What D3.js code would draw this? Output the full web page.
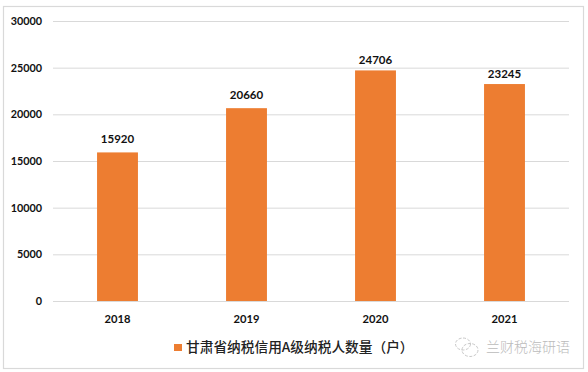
<!DOCTYPE html>
<html><head><meta charset="utf-8">
<script src="https://cdnjs.cloudflare.com/ajax/libs/d3/7.8.5/d3.min.js"></script>
<style>html,body{margin:0;padding:0;background:#fff}svg{display:block}</style></head>
<body><div id="chart"></div>
<script>
const years = ["2018","2019","2020","2021"];
const counts = [15920,20660,24706,23245];
const yTicks = [0,5000,10000,15000,20000,25000,30000];
const legendLabel = "甘肃省纳税信用A级纳税人数量（户）";
const watermark = "兰财税海研语";

const W=588,H=372,font='Lato,"Noto Sans CJK SC",sans-serif';
const labelGap=[9,9,6,6];
const svg=d3.select("#chart").append("svg").attr("width",W).attr("height",H).style("font-family",font);
svg.append("rect").attr("x",3.5).attr("y",6.5).attr("width",580).attr("height",362).attr("fill","#fff").attr("stroke","#d9d9d9").attr("stroke-width",1.2);
const x=d3.scaleBand().domain(years).range([53,569]).paddingInner(0.683).paddingOuter(0.3415);
const y=d3.scaleLinear().domain([0,30000]).range([301,21]);

const yAxis=svg.append("g").attr("transform","translate(53,0)").call(d3.axisLeft(y).tickValues(yTicks).tickSize(-516).tickPadding(11).tickFormat(d3.format("d")));
yAxis.select(".domain").remove();
yAxis.selectAll(".tick line").attr("stroke","#d9d9d9").attr("stroke-width",1);
yAxis.selectAll(".tick text").attr("font-size",10.8).attr("font-weight",700).attr("fill","#111").attr("font-family",font);

svg.selectAll("rect.bar").data(counts).join("rect").attr("class","bar")
 .attr("x",(d,i)=>x(years[i])).attr("width",x.bandwidth())
 .attr("y",d=>y(d)).attr("height",d=>y(0)-y(d)).attr("fill","#ed7d31");
svg.selectAll("text.val").data(counts).join("text").attr("class","val")
 .attr("x",(d,i)=>x(years[i])+x.bandwidth()/2).attr("y",(d,i)=>y(d)-labelGap[i])
 .attr("text-anchor","middle").attr("font-size",11.5).attr("font-weight",700).attr("fill","#111").text(d=>d);

const xAxis=svg.append("g").attr("transform","translate(0,301)").call(d3.axisBottom(x).tickSize(0).tickPadding(14.5));
xAxis.select(".domain").remove();
xAxis.selectAll("text").attr("font-size",11.2).attr("font-weight",700).attr("fill","#111").attr("font-family",font);

svg.append("rect").attr("x",174).attr("y",344).attr("width",8).attr("height",7).attr("fill","#ed7d31");
svg.append("text").attr("x",186).attr("y",352).attr("font-size",13.7).attr("font-weight",500).attr("fill","#222")
 .attr("font-family",'"Noto Sans CJK SC",sans-serif').text(legendLabel);

const wm=svg.append("g").attr("stroke","#c8c8c8").attr("fill","none").attr("stroke-width",1).attr("stroke-dasharray","3 1.5");
wm.append("ellipse").attr("cx",463).attr("cy",344).attr("rx",7.5).attr("ry",6);
wm.append("ellipse").attr("cx",470).attr("cy",350).attr("rx",8).attr("ry",6.5);
svg.append("text").attr("x",486).attr("y",351.5).attr("font-size",14).attr("font-weight",300).attr("fill","#bbb")
 .attr("font-family",'"Noto Sans CJK SC",sans-serif').text(watermark);
</script></body></html>
